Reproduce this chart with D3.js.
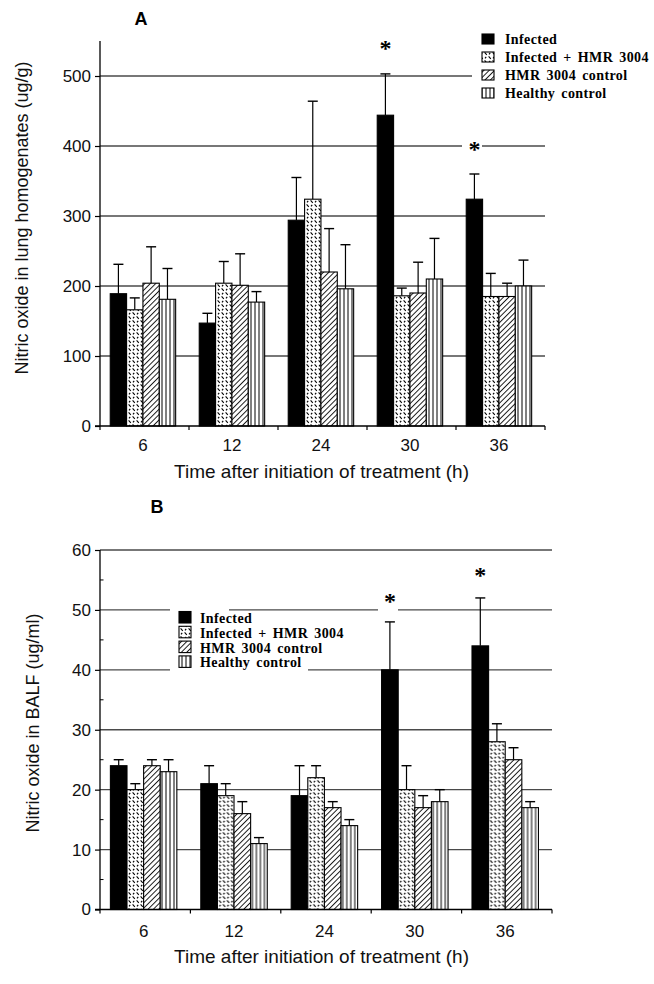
<!DOCTYPE html>
<html><head><meta charset="utf-8">
<script src="https://cdn.jsdelivr.net/npm/d3@7"></script>
<style>body{margin:0;background:#fff} svg{display:block}</style>
</head><body>
<svg id="c" width="654" height="984"></svg>
<script>
// ---------- DATA ----------
const times = ["6", "12", "24", "30", "36"];
const seriesNames = ["Infected", "Infected + HMR 3004", "HMR 3004 control", "Healthy control"];

// Panel A: nitric oxide in lung homogenates (ug/g), mean and SD
const lungInfected      = [189, 147, 294, 444, 324];
const lungInfectedHMR   = [166, 204, 324, 186, 185];
const lungHMRControl    = [204, 201, 220, 190, 185];
const lungHealthy       = [181, 177, 196, 210, 200];
const lungInfectedSD    = [42, 14, 61, 59, 36];
const lungInfectedHMRSD = [17, 31, 140, 11, 33];
const lungHMRControlSD  = [52, 45, 62, 44, 19];
const lungHealthySD     = [44, 15, 63, 58, 37];
const lungTicks = [0, 100, 200, 300, 400, 500];
const lungSignif = [{time: "30", level: 544}, {time: "36", level: 400}];

// Panel B: nitric oxide in BALF (ug/ml), mean and SD
const balfInfected      = [24, 21, 19, 40, 44];
const balfInfectedHMR   = [20, 19, 22, 20, 28];
const balfHMRControl    = [24, 16, 17, 17, 25];
const balfHealthy       = [23, 11, 14, 18, 17];
const balfInfectedSD    = [1, 3, 5, 8, 8];
const balfInfectedHMRSD = [1, 2, 2, 4, 3];
const balfHMRControlSD  = [1, 2, 1, 2, 2];
const balfHealthySD     = [2, 1, 1, 2, 1];
const balfTicks = [0, 10, 20, 30, 40, 50, 60];
const balfMinorTicks = [5, 15, 25, 35, 45, 55];
const balfSignif = [{time: "30", level: 52}, {time: "36", level: 56.3}];

const xTitle = "Time after initiation of treatment (h)";

// ---------- DRAWING ----------
const svg = d3.select("#c");
const defs = svg.append("defs");
const fills = ["#000", "url(#pDash)", "url(#pDiag)", "url(#pVert)"];

// patterns
const pDash = defs.append("pattern").attr("id", "pDash").attr("patternUnits", "userSpaceOnUse")
  .attr("width", 8).attr("height", 8);
pDash.append("rect").attr("width", 8).attr("height", 8).attr("fill", "#fff");
pDash.append("path").attr("d", "M0.6,0.4 L2.8,2.9 M4.6,4.4 L6.8,6.9 M6.2,0.8 L5.0,2.4 M2.2,4.8 L1.0,6.4")
  .attr("stroke", "#000").attr("stroke-width", 1.1).attr("fill", "none");

const pDiag = defs.append("pattern").attr("id", "pDiag").attr("patternUnits", "userSpaceOnUse")
  .attr("width", 3.8).attr("height", 10).attr("patternTransform", "rotate(45)");
pDiag.append("rect").attr("width", 3.8).attr("height", 10).attr("fill", "#fff");
pDiag.append("line").attr("x1", 0.5).attr("x2", 0.5).attr("y1", 0).attr("y2", 10)
  .attr("stroke", "#000").attr("stroke-width", 0.9);

const pVert = defs.append("pattern").attr("id", "pVert").attr("patternUnits", "userSpaceOnUse")
  .attr("width", 4).attr("height", 10);
pVert.append("rect").attr("width", 4).attr("height", 10).attr("fill", "#fff");
pVert.append("line").attr("x1", 2).attr("x2", 2).attr("y1", 0).attr("y2", 10)
  .attr("stroke", "#000").attr("stroke-width", 1);

function drawPanel(cfg) {
  const g = svg.append("g");
  const x = d3.scaleBand().domain(times).range([cfg.left, cfg.right]);
  const y = d3.scaleLinear().domain(cfg.domain).range([cfg.bottom, cfg.top]);
  const bw = x.bandwidth();
  const x1 = d3.scaleBand().domain(d3.range(4)).range([bw * 0.115, bw * 0.115 + bw * 0.735]);

  // gridlines
  g.append("g").selectAll("line").data(cfg.ticks.filter(d => d > 0)).join("line")
    .attr("x1", cfg.left).attr("x2", cfg.right)
    .attr("y1", d => y(d)).attr("y2", d => y(d))
    .attr("stroke", "#4a4a4a").attr("stroke-width", 1.3);

  // masks behind legend and asterisks
  cfg.masks.forEach(m => g.append("rect").attr("x", m[0]).attr("y", m[1])
    .attr("width", m[2]).attr("height", m[3]).attr("fill", "#fff"));

  // bars
  const groups = g.append("g").selectAll("g").data(times).join("g")
    .attr("transform", d => `translate(${x(d)},0)`);
  groups.each(function (t, ti) {
    const gg = d3.select(this);
    cfg.series.forEach((vals, si) => {
      const v = vals[ti], sd = cfg.sds[si][ti];
      const cx = x1(si) + x1.bandwidth() / 2;
      gg.append("line").attr("x1", cx).attr("x2", cx).attr("y1", y(v)).attr("y2", y(v + sd))
        .attr("stroke", "#000").attr("stroke-width", 1.2);
      gg.append("line").attr("x1", cx - 5).attr("x2", cx + 5).attr("y1", y(v + sd)).attr("y2", y(v + sd))
        .attr("stroke", "#000").attr("stroke-width", 1.4);
      gg.append("rect").attr("x", x1(si)).attr("y", y(v))
        .attr("width", x1.bandwidth()).attr("height", y(0) - y(v))
        .attr("fill", fills[si]).attr("stroke", "#000").attr("stroke-width", 1.1);
    });
  });

  // y axis
  const yAxis = d3.axisLeft(y).tickValues(cfg.ticks).tickSize(5).tickPadding(4).tickFormat(d3.format("d"));
  const ya = g.append("g").attr("transform", `translate(${cfg.left},0)`).call(yAxis);
  ya.select(".domain").attr("d", `M0,${cfg.axisTop}V${cfg.bottom}`).attr("stroke-width", 1.3);
  ya.selectAll(".tick line").attr("stroke-width", 1.2);
  ya.selectAll("text").attr("font-family", "Liberation Sans, Arial, sans-serif")
    .attr("font-size", 17).attr("fill", "#111");
  if (cfg.minor) {
    g.append("g").selectAll("line").data(cfg.minor).join("line")
      .attr("x1", cfg.left).attr("x2", cfg.left + 3.5)
      .attr("y1", d => y(d)).attr("y2", d => y(d)).attr("stroke", "#000").attr("stroke-width", 1);
  }

  // x axis
  const xa = g.append("g").attr("transform", `translate(0,${cfg.bottom})`);
  xa.append("line").attr("x1", cfg.left - 5).attr("x2", cfg.right).attr("stroke", "#000").attr("stroke-width", 1.3);
  xa.selectAll("line.tk").data(times.concat(["end"])).join("line").attr("class", "tk")
    .attr("x1", d => d === "end" ? cfg.right : x(d)).attr("x2", d => d === "end" ? cfg.right : x(d))
    .attr("y1", 0).attr("y2", 4).attr("stroke", "#000").attr("stroke-width", 1.2);
  xa.selectAll("text").data(times).join("text")
    .attr("x", d => x(d) + x1(0) + x1.bandwidth() * 2)
    .attr("y", cfg.tickLabelDy).attr("text-anchor", "middle")
    .attr("font-family", "Liberation Sans, Arial, sans-serif").attr("font-size", 17).attr("fill", "#111")
    .text(d => d);

  // titles
  g.append("text").attr("x", 321.5).attr("y", cfg.xTitleY).attr("text-anchor", "middle")
    .attr("font-family", "Liberation Sans, Arial, sans-serif").attr("font-size", 19).attr("fill", "#111")
    .text(xTitle);
  g.append("text").attr("transform", `translate(${cfg.yTitleX},${cfg.yTitleY}) rotate(-90)`)
    .attr("text-anchor", "middle")
    .attr("font-family", "Liberation Sans, Arial, sans-serif").attr("font-size", 18).attr("fill", "#111")
    .text(cfg.yTitle);
  g.append("text").attr("x", cfg.letterX).attr("y", cfg.letterY).attr("text-anchor", "middle")
    .attr("font-family", "Liberation Sans, Arial, sans-serif").attr("font-weight", "bold")
    .attr("font-size", 18).attr("fill", "#000").text(cfg.letter);

  // significance asterisks (over Infected bars)
  g.selectAll("text.ast").data(cfg.signif).join("text").attr("class", "ast")
    .attr("x", d => x(d.time) + x1(0) + x1.bandwidth() / 2)
    .attr("y", d => y(d.level) + 11).attr("text-anchor", "middle")
    .attr("font-family", "Liberation Serif, Times New Roman, serif").attr("font-weight", "bold")
    .attr("font-size", 24).attr("fill", "#000").text("*");

  // legend
  const lg = g.append("g");
  seriesNames.forEach((name, i) => {
    const top = cfg.legend.y + i * cfg.legend.step;
    lg.append("rect").attr("x", cfg.legend.x).attr("y", top)
      .attr("width", 12).attr("height", cfg.legend.box)
      .attr("fill", fills[i]).attr("stroke", "#000").attr("stroke-width", 1.1);
    lg.append("text").attr("x", cfg.legend.x + cfg.legend.textDx).attr("y", top + cfg.legend.box)
      .attr("font-family", "Liberation Serif, Times New Roman, serif").attr("font-weight", "bold")
      .attr("font-size", 14).attr("letter-spacing", 0.4).attr("word-spacing", 2.2)
      .attr("fill", "#000").text(name);
  });
}

drawPanel({
  left: 100, right: 545, top: 41, bottom: 426, axisTop: 41, domain: [0, 550],
  ticks: lungTicks, minor: null, tickLabelDy: 25,
  series: [lungInfected, lungInfectedHMR, lungHMRControl, lungHealthy],
  sds: [lungInfectedSD, lungInfectedHMRSD, lungHMRControlSD, lungHealthySD],
  signif: lungSignif,
  xTitleY: 478, yTitle: "Nitric oxide in lung homogenates (ug/g)", yTitleX: 28, yTitleY: 218,
  letter: "A", letterX: 141, letterY: 25,
  masks: [[472, 28, 182, 76], [462, 138, 20, 16]],
  legend: {x: 482, y: 34, step: 18, box: 10, textDx: 23}
});

drawPanel({
  left: 100, right: 552, top: 550, bottom: 909.5, axisTop: 550, domain: [0, 60],
  ticks: balfTicks, minor: balfMinorTicks, tickLabelDy: 27.5,
  series: [balfInfected, balfInfectedHMR, balfHMRControl, balfHealthy],
  sds: [balfInfectedSD, balfInfectedHMRSD, balfHMRControlSD, balfHealthySD],
  signif: balfSignif,
  xTitleY: 963, yTitle: "Nitric oxide in BALF (ug/ml)", yTitleX: 39, yTitleY: 723,
  letter: "B", letterX: 157, letterY: 513,
  masks: [[170, 604, 59, 12], [170, 666, 138, 10], [378, 592, 20, 24]],
  legend: {x: 179, y: 611.5, step: 14.8, box: 11.5, textDx: 21}
});
</script>
</body></html>
